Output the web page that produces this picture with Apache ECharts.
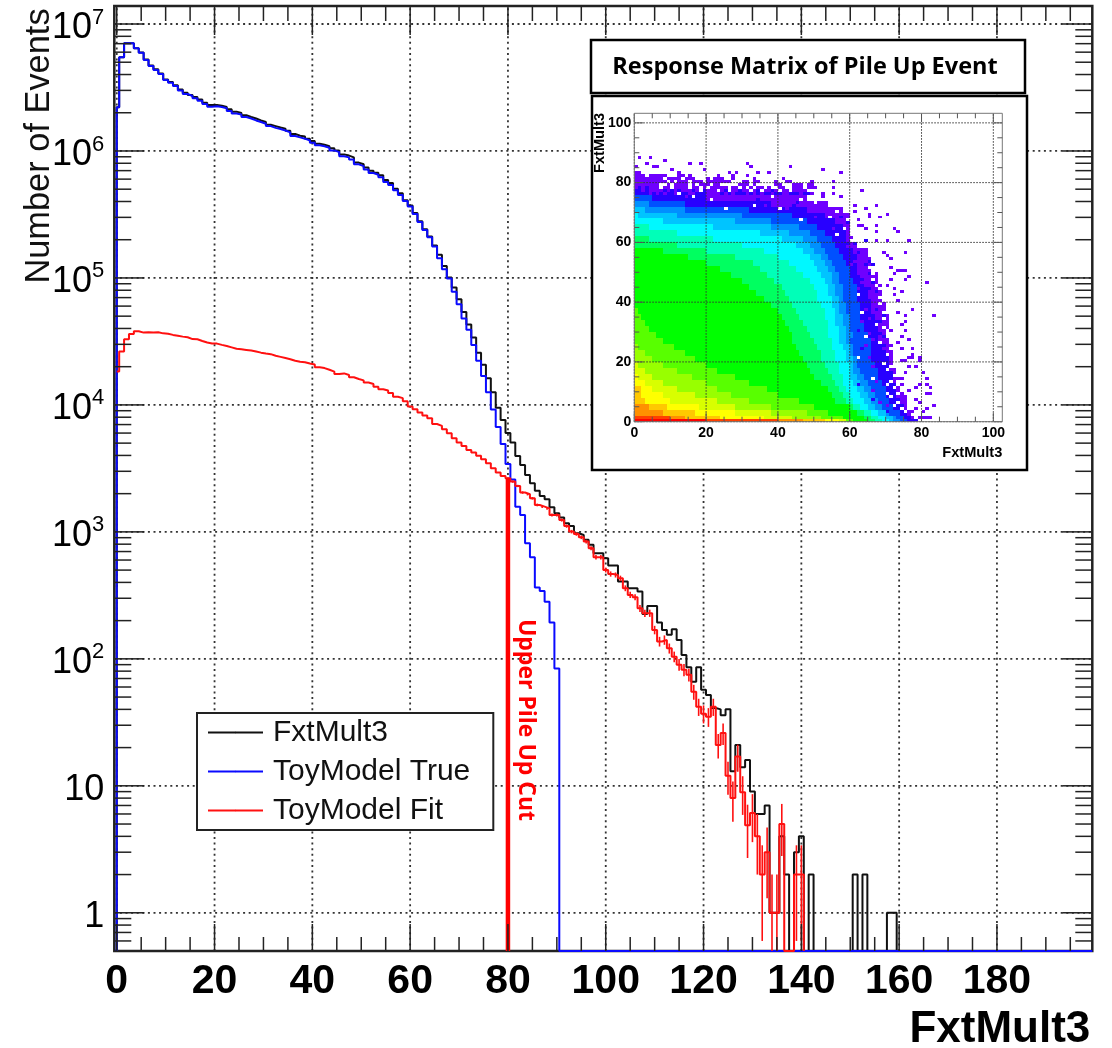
<!DOCTYPE html>
<html><head><meta charset="utf-8">
<style>html,body{margin:0;padding:0;background:#fff}#c{width:1112px;height:1048px}</style>
<script src="https://cdn.jsdelivr.net/npm/echarts@6/dist/echarts.min.js"></script>
</head><body><div id="c"></div>
<script>
// ---- main histogram: one value per unit-wide bin, starting at bin 0 ----
const fxtMult3 = [
2.21e6,5.47e6,7.05e6,7.05e6,6.45e6,5.96e6,5.25e6,4.72e6,4.40e6,4.08e6,
3.66e6,3.50e6,3.30e6,3.05e6,2.88e6,2.76e6,2.66e6,2.54e6,2.40e6,2.30e6,
2.30e6,2.27e6,2.22e6,2.13e6,2.04e6,1.99e6,1.91e6,1.85e6,1.80e6,1.74e6,
1.69e6,1.61e6,1.57e6,1.53e6,1.50e6,1.44e6,1.36e6,1.32e6,1.30e6,1.25e6,
1.20e6,1.14e6,1.12e6,1.09e6,1.05e6,1.01e6,9.4e5,9.2e5,8.9e5,8.1e5,
7.85e5,7.4e5,7.0e5,6.75e5,6.45e5,5.9e5,5.6e5,5.05e5,4.65e5,4.1e5,
3.72e5,3.25e5,2.8e5,2.42e5,2.12e5,1.80e5,1.52e5,1.24e5,1.01e5,8.4e4,
6.8e4,5.4e4,4.3e4,3.4e4,2.58e4,2.07e4,1.62e4,1.26e4,9.5e3,7.6e3,
6.0e3,5.05e3,3.96e3,3.37e3,2.81e3,2.41e3,2.11e3,1.92e3,1.81e3,1.56e3,
1400,1300,1170,1110,975,946,865,790,679,679,
620,543,543,406,406,360,360,339,226,261,
261,193,169,155,171,141,107,86,66,86,
57,52,41,40,36,40,13,21,14,16,
9,6,6,7,1,1,4,2,0,3,
4,0,2,0,0,0,0,0,0,0,
0,2,0,2,0,0,0,0,1,1];
const toyTrue = [
2.21e6,5.47e6,7.05e6,7.05e6,6.43e6,5.94e6,5.21e6,4.67e6,4.34e6,4.04e6,
3.62e6,3.45e6,3.25e6,2.99e6,2.81e6,2.71e6,2.60e6,2.49e6,2.34e6,2.23e6,
2.25e6,2.22e6,2.17e6,2.06e6,1.97e6,1.94e6,1.85e6,1.80e6,1.74e6,1.69e6,
1.64e6,1.57e6,1.52e6,1.49e6,1.45e6,1.40e6,1.31e6,1.28e6,1.25e6,1.21e6,
1.16e6,1.11e6,1.09e6,1.06e6,1.01e6,9.8e5,9.1e5,8.9e5,8.55e5,7.85e5,
7.6e5,7.15e5,6.7e5,6.5e5,6.2e5,5.7e5,5.4e5,4.9e5,4.5e5,4.04e5,
3.65e5,3.19e5,2.76e5,2.39e5,2.09e5,1.77e5,1.43e5,1.17e5,9.9e4,7.8e4,
6.2e4,4.8e4,3.9e4,2.97e4,2.23e4,1.69e4,1.26e4,9.2e3,6.7e3,4.93e3,
3.43e3,2.59e3,1.58e3,1.36e3,813,631,364,343,282,193,84];
const toyFit = [
18300,26300,32900,36200,38000,37100,37300,37100,37300,36600,
36400,35600,35100,34500,34100,33000,32900,31900,31000,30400,
30400,29700,29100,28400,27700,27400,27100,26800,26300,25800,
25400,25100,24400,23900,23400,22900,22300,21900,21700,21200,
20800,19800,19500,18900,18300,17500,17700,17200,16500,16000,
15600,15000,14600,13900,13300,13000,12400,11600,11300,10700,
9700,9250,8700,8250,7850,7080,6840,6430,5980,5460,
5050,4750,4420,4220,3970,3730,3470,3170,2930,2760,
2640,2490,2300,2040,1980,1840,1630,1580,1530,1360,
1360,1240,1110,1005,963,907,838,743,631,631,
501,466,458,431,360,319,306,250,229,229,
169,137,141,121,104,90,82,75,55,42,
37,35,42,21,26,12,8,17,8.9,4.9,
6.1,4,2,3,1,1,5,0,0,2,2];
const fitErrorStartBin = 80;
const toyFitError = [
51,50,48,45,44,43,40,40,39,37,
37,35,33,32,31,30,29,27,25,25,
22,22,21,21,19,18,17,16,15,15,
13,12,12,11,10,9.5,9,8.7,7.4,6.5,
6,5.9,6.5,4.6,5,3.5,2.8,4.1,3,2.2,
2.5,2,1.4,1.7,1,1,2.2,0,0,1.4,1.4];
const cutBin = 80, cutTop = 2650;
const xMajorTicks = [0,20,40,60,80,100,120,140,160,180];
const xMinorTicks = [5,10,15,25,30,35,45,50,55,65,70,75,85,90,95,105,110,115,125,130,135,145,150,155,165,170,175,185,190,195];
const yMajorTicks = [1,10,100,1000,10000,100000,1000000,10000000];
const yMinorTicks = [0.6,0.7,0.8,0.9,
 2,3,4,5,6,7,8,9,20,30,40,50,60,70,80,90,200,300,400,500,600,700,800,900,
 2000,3000,4000,5000,6000,7000,8000,9000,20000,30000,40000,50000,60000,70000,80000,90000,
 200000,300000,400000,500000,600000,700000,800000,900000,2000000,3000000,4000000,5000000,6000000,7000000,8000000,9000000];
const X_MIN=-0.5, X_MAX=199.5, Y_MIN=0.5, Y_MAX=1.386e7;

// ---- inset: rows of "level:endX" runs, one row per 2 units of y from y=0 ----
const insetPalette = {1:'#6f00ff',2:'#2800ff',3:'#0050ff',4:'#0090ff',5:'#00c4ff',6:'#00f8ff',7:'#00ffb8',8:'#00ff60',9:'#00ff00',
 a:'#58ff00',b:'#98ff00',c:'#d8ff00',d:'#ffff00',e:'#ffc800',f:'#ff9000',g:'#ff4000',h:'#ff0000',w:'#ffffff'};
const insetBottomRow = 'h:20 g:40 f:47 e:53 d:57 c:59 a:61 9:65 8:67 7:69 6:71 5:72 4:74 3:76 2:79';
const insetRows = [
'g:10 f:14 e:24 d:36 c:44 b:52 a:58 9:64 8:66 7:68 6:70 5:72 4:73 3:75 2:77 1:78',
'f:8 e:17 d:28 c:38 b:48 a:54 9:62 8:64 7:66 6:68 5:70 4:71 3:74 2:76 1:77',
'f:4 e:9 d:18 c:28 b:38 a:50 9:60 8:61 7:63 6:65 5:67 4:69 3:72 2:75 1:76',
'e:3 d:10 c:23 b:32 a:46 9:56 8:59 7:61 6:64 5:66 4:68 3:71 2:74 1:76',
'e:2 d:8 c:17 b:27 a:40 9:55 8:58 7:60 6:63 5:65 4:67 3:70 2:73 1:75',
'e:2 d:5 c:12 b:23 a:37 9:54 8:57 7:59 6:62 5:64 4:66 3:70 2:73 1:74',
'd:3 c:8 b:20 a:32 9:52 8:56 7:58 6:61 5:63 4:65 3:69 2:72 1:73',
'd:1 c:5 b:16 a:28 9:50 8:55 7:58 6:60 5:62 4:64 3:68 2:72 1:73',
'c:3 b:12 a:23 9:49 8:54 7:57 6:60 5:61 4:63 3:68 2:71 1:73',
'c:1 b:8 a:20 9:48 8:53 7:57 6:60 5:61 4:62 3:67 2:71 1:72',
'b:5 a:17 9:47 8:52 7:56 6:59 5:61 4:62 3:66 2:71 1:72',
'b:3 a:14 9:46 8:52 7:56 6:59 5:60 4:61 3:66 2:70 1:72',
'b:1 a:11 9:45 8:51 7:55 6:58 5:60 4:61 3:66 2:69 1:72',
'a:8 9:44 8:50 7:55 6:57 5:59 4:60 3:66 2:68 1:71',
'a:6 9:44 8:49 7:54 6:57 5:59 4:61 3:65 2:68 1:70',
'a:4 9:43 8:48 7:54 6:57 5:59 4:60 3:64 2:68 1:72',
'a:3 9:42 8:47 7:54 6:56 5:58 4:60 3:64 2:68 1:71',
'a:2 9:41 8:46 7:53 6:56 5:58 4:60 3:63 2:67 1:71',
'a:1 9:40 8:45 7:53 6:56 5:57 4:59 3:63 2:66 1:70',
'9:38 8:44 7:52 6:55 5:57 4:59 3:63 2:66 1:70',
'9:36 8:43 7:51 6:55 5:57 4:58 3:62 2:66 1:69',
'9:34 8:42 7:51 6:54 5:56 4:58 3:62 2:65 1:69',
'9:32 8:41 7:50 6:54 5:56 4:58 3:62 2:65 1:69',
'9:30 8:39 7:49 6:53 5:55 4:57 3:61 2:64 1:68',
'9:27 8:37 7:47 6:52 5:55 4:57 3:60 2:63 1:68',
'9:24 8:35 7:45 6:51 5:54 4:56 3:60 2:62 1:66',
'9:20 8:33 7:43 6:50 5:53 4:55 3:59 2:62 1:66',
'9:15 8:28 7:40 6:49 5:52 4:54 3:58 2:62 1:66',
'9:8 8:20 7:36 6:47 5:50 4:53 3:57 2:61 1:65',
'8:12 7:30 6:45 5:49 4:52 3:56 2:60 1:62',
'8:4 7:22 6:41 5:47 4:51 3:55 2:59 1:61',
'7:12 6:35 5:43 4:49 3:53 2:59 1:60',
'7:4 6:22 5:38 4:46 3:51 2:58 1:60',
'6:8 5:28 4:38 3:48 2:56 1:60',
'6:1 5:12 4:30 3:44 2:53 1:60',
'5:3 4:14 3:32 2:48 1:58',
'4:4 3:14 2:38 1:54',
'3:5 2:20 1:48'];
// rows y=76..83, one char per unit of x from x=0 ('.' = empty bin)
const insetTopStartY = 76;
const insetTopRows = [
'22221212122122211222111121212221212122122112221221..1..1',
'221211112121211121.2111.12.11211.12.1121.11.1111.....',
'1212111.11.1111.11.1.11111.11.1.1.11.1..11..111.111',
'1111111..1.1111.1.111.11.....111.1.....11...111.11',
'111111111.1.111.111.1111111...11.11....1..11.....1.....1',
'11111111.1111.111...1.111..1.....1.......1.',
'111.11111...11.1.......1...1...1...........',
'11..........1.............1.1.....1..1.....'];
// isolated occupied bins, [x,y]
const insetStrayBins = [[1,88],[4,88],[8,87],[3,86],[0,85],[5,85],[6,85],[15,86],[18,86],[19,84],[31,86],[32,85],[43,85],[52,84],[57,83],[10,84],
[81,46],[83,35],[76,48],[75,47],[75,56],[76,60],[70,60],[67,60],[67,72],[70,69],[68,68],[65,69],[65,68],[64,71],[61,72],[61,70],[63,77],[55,78],[55,76],[57,75],[52,75],[72,64],[73,63],[67,65],[67,63],[64,64],[63,65],[62,67],[62,65],
[77,37],[75,35],[73,40],[74,43],[75,33],[74,32],[75,30],[76,27],[77,24],[77,22],[79,21],[79,20],[77,21],[76,21],[75,20],[74,20],[78,18],[80,16],[81,14],[81,12],[82,11],[79,12],[78,11],[82,9],[81,9],[78,7],[79,6],[83,5],[81,4],[80,3],[79,1],[80,1],[81,1],[82,1],
[73,50],[75,50],[74,50],[72,49],[71,51],[71,54],[70,55],[69,56],[72,44],[71,47],[70,45],[72,42],[73,36],[74,28],[73,26],[74,24],[76,18],[75,16],[74,12],[76,10],[75,8],[74,6],[78,4],[77,3],[76,2],[73,14],[74,14],[72,16],
[63,33],[64,37],[65,29],[64,25],[65,21],[66,18],[67,13],[65,41],[63,46],[62,49],[61,53],[59,58],[55,64],[50,68],[42,71],[36,72],[26,74],[14,75],[66,10],[68,6],[70,5],[64,45],[65,34],[66,27],[62,44],[60,52]];
// empty bins inside the occupied edge, [x,y]
const insetHoles = [[25,71],[16,75],[46,67],[64,28],[68,41],[63,36],[62,21],[68,26],[70,38],[66,47],[69,51],[65,56],[58,64],[60,60],[72,33],[70,12],[71,8],[72,5],[69,19],[67,32],[62,42],[33,72],[21,74],[12,76],[40,71],[54,68],[56,62],[70,17],[66,14],[68,44],
[70,30],[71,31],[69,34],[70,37],[68,39],[69,43],[67,45],[66,49],[67,53],[65,55],[64,58],[71,24],[70,22],[72,21],[71,18],[72,15],[72,11],[70,9],[73,9],[73,6],[74,4],[75,3],[69,36],[68,47],[65,51],[63,59],[60,63],[59,67],[56,70],[50,73],[46,74],[38,75],[71,28],[69,31],[71,13]];
const insetMixBlue = [[62,30],[63,24],[66,33],[65,44],[64,52],[60,56],[62,12],[66,7],[70,3],[44,72],[30,73],[18,74],[8,75],[59,66],[63,40],[67,22],[69,28],[66,52],[64,60],[57,68],
[68,33],[67,37],[69,25],[70,20],[71,16],[70,10],[72,7],[67,43],[66,46],[65,49],[62,56],[61,59],[57,65],[52,69],[45,73],[34,74],[68,29],[69,35],[72,12],[65,53]];
const insetMajor = [0,20,40,60,80,100];
const insetMinorX = [5,10,15,25,30,35,45,50,55,65,70,75,85,90,95];
const INS_X_MAX=102.5, INS_Y_MAX=103.2;

// ---- builders ----
function histPoints(values, end, fromFloor){
  const p=fromFloor?[[0,Y_MIN]]:[];
  values.forEach((v,i)=>{const y=Math.max(v,Y_MIN); p.push([i===0?0:i-0.5,y]); p.push([i+0.5,y]);});
  p.push([values.length-0.5,Y_MIN]);
  if(end) p.push([end,Y_MIN]);
  return p;
}
function runs(str,y,h,out){
  let x0=0;
  str.split(' ').forEach(s=>{const [l,e]=s.split(':'); out.push([x0,+e,y,y+h,l]); x0=+e;});
}
const insetCells=[];
insetRows.forEach((r,i)=>runs(r,i*2,2,insetCells));
runs(insetBottomRow,0,1,insetCells);
insetTopRows.forEach((r,i)=>{[...r].forEach((c,x)=>{if(c!=='.')insetCells.push([x,x+1,insetTopStartY+i,insetTopStartY+i+1,c]);});});
insetStrayBins.forEach(b=>insetCells.push([b[0],b[0]+1,b[1],b[1]+1,'1']));
insetMixBlue.forEach(b=>insetCells.push([b[0],b[0]+1,b[1],b[1]+1,'2']));
insetHoles.forEach(b=>insetCells.push([b[0],b[0]+1,b[1],b[1]+1,'w']));

const line=(p1,p2,stroke,w,dash)=>({type:'line',shape:{x1:p1[0],y1:p1[1],x2:p2[0],y2:p2[1]},style:{stroke,lineWidth:w,lineDash:dash||null,fill:null},silent:true});
const DOT=[2,3.6], TICK='#222';

const xRow=[...xMajorTicks.map(v=>[v,0,1]),...xMinorTicks.map(v=>[v,0,0])];
const yRow=[...yMajorTicks.map(v=>[0,v,1]),...yMinorTicks.map(v=>[0,v,0])];

const series=[
 {type:'custom',name:'grid',z:1,silent:true,xAxisIndex:0,yAxisIndex:0,clip:false,
  data:[...xMajorTicks.map(v=>[v,1,0]),...yMajorTicks.map(v=>[1,v,1])],
  renderItem(p,api){
    const vert=api.value(2)===0;
    const a=vert?api.coord([api.value(0),Y_MIN]):api.coord([X_MIN,api.value(1)]);
    const b=vert?api.coord([api.value(0),Y_MAX]):api.coord([X_MAX,api.value(1)]);
    return line(a,b,'#333',1.8,DOT);
  }},
 {type:'line',name:'FxtMult3',z:2,showSymbol:false,symbol:'none',clip:false,animation:false,xAxisIndex:0,yAxisIndex:0,
  data:histPoints(fxtMult3,X_MAX,true),lineStyle:{color:'#111',width:2},itemStyle:{color:'#111'}},
 {type:'line',name:'ToyModel True',z:3,showSymbol:false,symbol:'none',clip:false,animation:false,xAxisIndex:0,yAxisIndex:0,
  data:histPoints(toyTrue,X_MAX,true),lineStyle:{color:'#0a0aff',width:2},itemStyle:{color:'#0a0aff'}},
 {type:'line',name:'ToyModel Fit',z:4,showSymbol:false,symbol:'none',clip:true,animation:false,xAxisIndex:0,yAxisIndex:0,
  data:histPoints(toyFit,0,false),lineStyle:{color:'#ff1010',width:2},itemStyle:{color:'#ff1010'}},
 {type:'custom',name:'fit errors',z:4,silent:true,xAxisIndex:0,yAxisIndex:0,
  data:toyFitError.map((e,i)=>[fitErrorStartBin+i,toyFit[fitErrorStartBin+i],e]),
  renderItem(p,api){
    const x=api.value(0),v=api.value(1),e=api.value(2);
    if(!v||!e) return null;
    return line(api.coord([x,Math.max(v-e,Y_MIN)]),api.coord([x,v+e]),'#ff1010',1.6);
  }},
 {type:'line',name:'Upper Pile Up Cut',z:5,symbol:'none',animation:false,xAxisIndex:0,yAxisIndex:0,
  data:[[cutBin,Y_MIN],[cutBin,cutTop]],lineStyle:{color:'#ff0000',width:4.5}},
 {type:'custom',name:'x ticks',z:6,silent:true,clip:false,xAxisIndex:0,yAxisIndex:0,data:xRow,
  renderItem(p,api){
    const x=api.value(0),maj=api.value(2);
    const b=api.coord([x,Y_MIN]),t=api.coord([x,Y_MAX]);
    return {type:'group',children:[
      line(b,[b[0],b[1]-(maj?27:14)],TICK,1.5),
      line(t,[t[0],t[1]+(maj?29:15)],TICK,1.5)]};
  }},
 {type:'custom',name:'y ticks',z:6,silent:true,clip:false,xAxisIndex:0,yAxisIndex:0,data:yRow,
  renderItem(p,api){
    const y=api.value(1),maj=api.value(2);
    const l=api.coord([X_MIN,y]),r=api.coord([X_MAX,y]);
    return {type:'group',children:[
      line(l,[l[0]+(maj?30:17),l[1]],TICK,1.5),
      line(r,[r[0]-(maj?30:17),r[1]],TICK,1.5)]};
  }},
 // inset
 {type:'custom',name:'inset cells',z:20,silent:true,xAxisIndex:1,yAxisIndex:1,clip:true,data:insetCells,
  encode:{x:[0,1],y:[2,3]},dimensions:['x0','x1','y0','y1',{name:'level',type:'ordinal'}],
  renderItem(p,api){
    const raw=insetCells[p.dataIndex];
    const a=api.coord([raw[0],raw[3]]),b=api.coord([raw[1],raw[2]]);
    const x=Math.round(a[0]),y=Math.round(a[1]);
    return {type:'rect',shape:{x,y,width:Math.round(b[0])-x,height:Math.round(b[1])-y},style:{fill:insetPalette[raw[4]]},silent:true};
  }},
 {type:'custom',name:'inset grid',z:21,silent:true,clip:false,xAxisIndex:1,yAxisIndex:1,
  data:[...insetMajor.map(v=>[v,0]),...insetMajor.map(v=>[v,1]),[-1,2],...insetMinorX.map(v=>[v,3])],
  renderItem(p,api){
    const v=api.value(0),k=api.value(1);
    const C='#555';
    if(k===2){
      const a=api.coord([0,INS_Y_MAX]),b=api.coord([INS_X_MAX,0]);
      return {type:'rect',shape:{x:a[0],y:a[1],width:b[0]-a[0],height:b[1]-a[1]},style:{fill:null,stroke:'#777',lineWidth:1},silent:true};
    }
    if(k===0){
      const b=api.coord([v,0]),t=api.coord([v,INS_Y_MAX]);
      return {type:'group',children:[line(b,t,'#333',1,[1.5,1.5]),line(b,[b[0],b[1]-9],C,1),line(t,[t[0],t[1]+9],C,1)]};
    }
    if(k===1){
      const l=api.coord([0,v]),r=api.coord([INS_X_MAX,v]);
      return {type:'group',children:[line(l,r,'#333',1,[1.5,1.5]),line(l,[l[0]+9,l[1]],C,1),line(r,[r[0]-9,r[1]],C,1)]};
    }
    const b=api.coord([v,0]),t=api.coord([v,INS_Y_MAX]),l=api.coord([0,v]),r=api.coord([INS_X_MAX,v]);
    return {type:'group',children:[line(b,[b[0],b[1]-5],C,1),line(t,[t[0],t[1]+5],C,1),line(l,[l[0]+5,l[1]],C,1),line(r,[r[0]-5,r[1]],C,1)]};
  }}
];

const option={
 animation:false,
 backgroundColor:'#fff',
 textStyle:{fontFamily:'"Liberation Sans",Arial,sans-serif'},
 grid:[
  {left:114.3,top:6,width:978,height:945,show:true,backgroundColor:'#fff',borderColor:'#222',borderWidth:2.5,containLabel:false,outerBoundsMode:'none'},
  {left:634.3,top:113.3,width:368,height:308.4,show:false,containLabel:false,outerBoundsMode:'none'}
 ],
 xAxis:[
  {type:'value',gridIndex:0,min:X_MIN,max:X_MAX,axisLine:{show:false},axisTick:{show:false},splitLine:{show:false},
   axisLabel:{customValues:xMajorTicks,fontSize:41,fontWeight:'bold',color:'#000',margin:10,hideOverlap:false,showMinLabel:true,showMaxLabel:true},
   name:'FxtMult3',nameLocation:'end',nameGap:0,nameTextStyle:{fontSize:44,fontWeight:'bold',color:'#000',align:'right',verticalAlign:'top',padding:[57,2,0,0]}},
  {type:'value',gridIndex:1,min:0,max:INS_X_MAX,z:21,axisLine:{show:false},axisTick:{show:false},splitLine:{show:false},
   axisLabel:{customValues:insetMajor,fontSize:14,fontWeight:'bold',color:'#000',margin:4},
   name:'FxtMult3',nameLocation:'end',nameGap:0,nameTextStyle:{fontSize:14.6,fontWeight:'bold',color:'#000',align:'right',verticalAlign:'top',padding:[24,0,0,0]}}
 ],
 yAxis:[
  {type:'log',logBase:10,gridIndex:0,min:Y_MIN,max:Y_MAX,axisLine:{show:false},axisTick:{show:false},splitLine:{show:false},minorTick:{show:false},minorSplitLine:{show:false},
   axisLabel:{customValues:yMajorTicks,margin:10,color:'#000',fontSize:36,padding:[5,0,0,0],
     formatter(v){
       const k=Math.round(Math.log10(v));
       if(k===0) return '{n|1}';
       if(k===1) return '{n|10}';
       return '{n|10}{s|'+k+'}';
     },
     rich:{n:{fontSize:36,color:'#000',lineHeight:40,verticalAlign:'bottom'},s:{fontSize:22,color:'#000',lineHeight:40,verticalAlign:'top'}}}},
  {type:'value',gridIndex:1,min:0,max:INS_Y_MAX,z:21,axisLine:{show:false},axisTick:{show:false},splitLine:{show:false},
   axisLabel:{customValues:insetMajor,fontSize:14,fontWeight:'bold',color:'#000',margin:3}}
 ],
 legend:{data:['FxtMult3','ToyModel True','ToyModel Fit'],orient:'vertical',left:197,top:713,z:15,itemGap:0,itemWidth:55,itemHeight:2,
  padding:[0,23,0,10],backgroundColor:'#fff',borderColor:'#222',borderWidth:2,borderRadius:0,selectedMode:false,
  textStyle:{fontSize:30,color:'#111',lineHeight:39,padding:[0,0,0,5]}},
 graphic:[
  {type:'rect',z:10,shape:{x:591,y:40,width:434,height:53},style:{fill:'#fff',stroke:'#000',lineWidth:2.5},silent:true},
  {type:'rect',z:10,shape:{x:592,y:96,width:435,height:374},style:{fill:'#fff',stroke:'#000',lineWidth:2.5},silent:true},
  {type:'text',z:11,x:805,y:67,style:{text:'Response Matrix of Pile Up Event',font:'bold 23.5px "Open Sans"',fill:'#000',textAlign:'center',textVerticalAlign:'middle'},silent:true},
  {type:'text',z:11,x:526,y:720,rotation:-Math.PI/2,style:{text:'Upper Pile Up Cut',font:'bold 23px "Open Sans"',fill:'#f00',textAlign:'center',textVerticalAlign:'middle'},silent:true},
  {type:'text',z:11,x:40,y:146,rotation:Math.PI/2,style:{text:'Number of Events',font:'34.4px "Liberation Sans"',fill:'#111',textAlign:'center',textVerticalAlign:'middle'},silent:true},
  {type:'text',z:22,x:600,y:143,rotation:Math.PI/2,style:{text:'FxtMult3',font:'bold 14.6px "Liberation Sans"',fill:'#000',textAlign:'center',textVerticalAlign:'middle'},silent:true}
 ],
 series
};
const chart=echarts.init(document.getElementById('c'),null,{renderer:'canvas'});
chart.setOption(option);
</script>
</body></html>
